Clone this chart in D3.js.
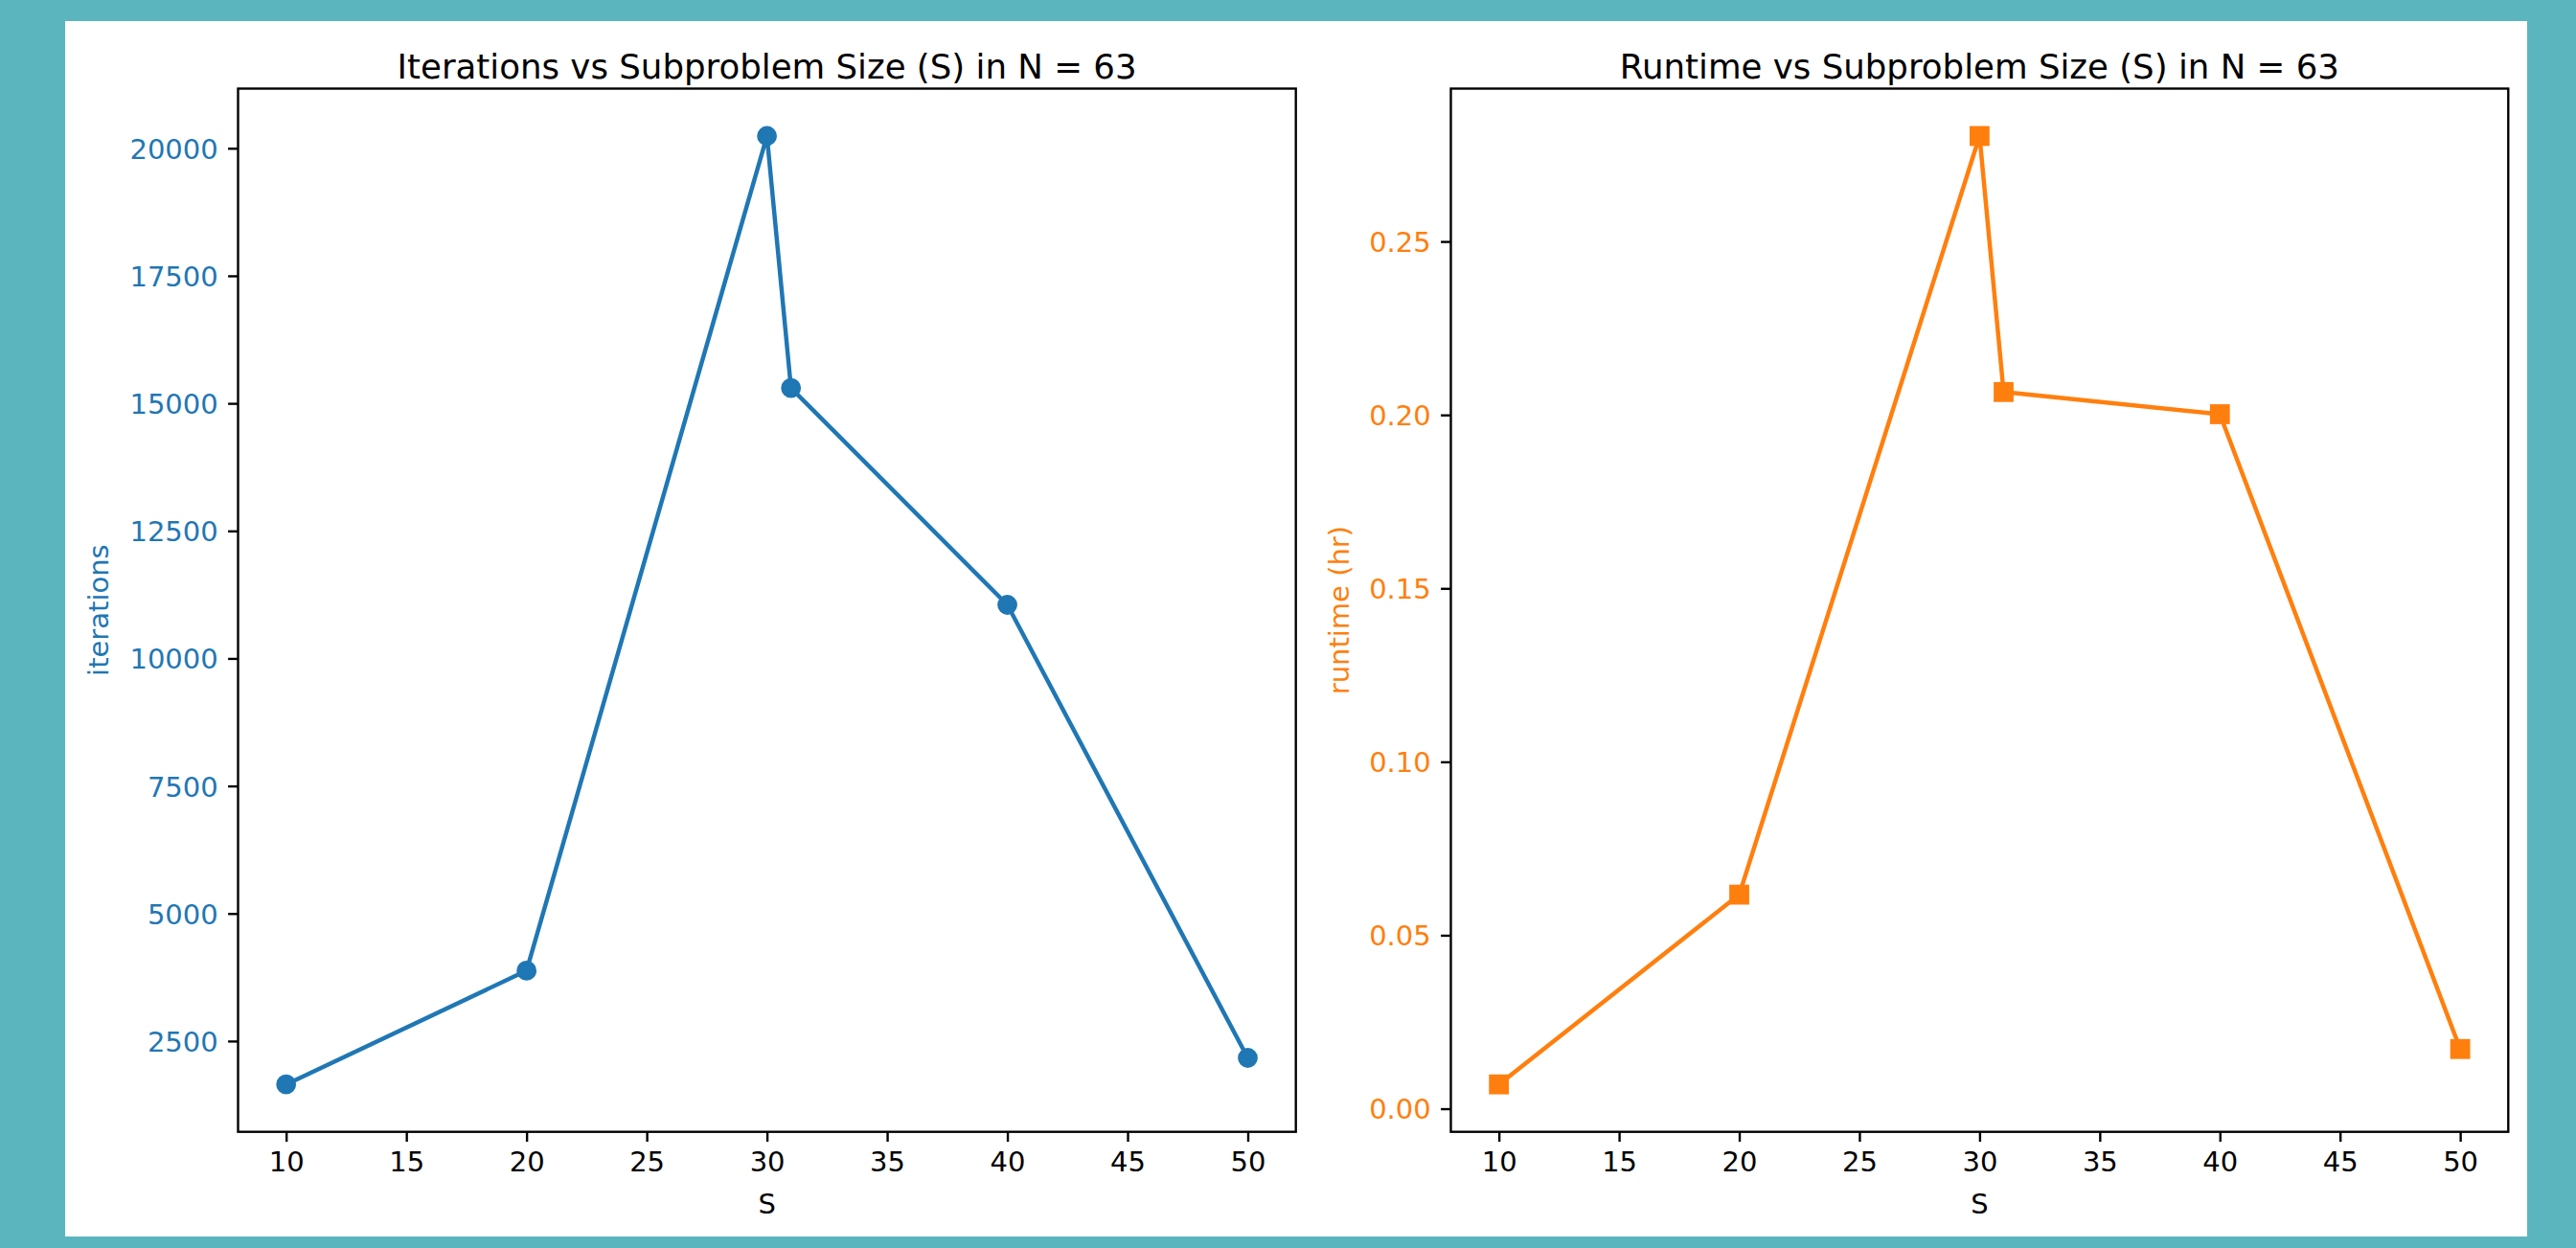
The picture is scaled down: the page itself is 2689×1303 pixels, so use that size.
<!DOCTYPE html>
<html>
<head>
<meta charset="utf-8">
<script src="https://cdn.jsdelivr.net/npm/d3@7"></script>
<style>
  body { margin: 0; background: #5bb5bf; }
  text { font-family: "DejaVu Sans", sans-serif; }
</style>
</head>
<body>
<div id="chart"></div>
<script>
// data
var subSizes = [10, 20, 30, 31, 40, 50],
    iterations = [1650, 3880, 20240, 15300, 11050, 2170],
    runtimeHr = [0.0070, 0.0617, 0.2804, 0.2066, 0.2002, 0.0172],
    xTicks = [10, 15, 20, 25, 30, 35, 40, 45, 50],
    iterTicks = [2500, 5000, 7500, 10000, 12500, 15000, 17500, 20000],
    runTicks = [0, 0.05, 0.10, 0.15, 0.20, 0.25];

var width = 2689,
    height = 1303,
    pt = 2.97,            // px per point in the source figure
    blue = "#1f77b4",
    orange = "#ff7f0e";

var svg = d3.select("#chart").append("svg")
    .attr("width", width)
    .attr("height", height);

svg.append("rect")
    .attr("width", width)
    .attr("height", height)
    .style("fill", "#5bb5bf");

svg.append("rect")
    .attr("x", 68)
    .attr("y", 22)
    .attr("width", 2570)
    .attr("height", 1269)
    .style("fill", "#ffffff");

// matplotlib style 5% padding around the data
function padded(vals) {
  var lo = d3.min(vals), hi = d3.max(vals), r = hi - lo;
  return [lo - 0.05 * r, hi + 0.05 * r];
}

function panel(opts) {
  var left = opts.left, right = opts.right, top = 92.5, bottom = 1181.7;

  var x = d3.scaleLinear().domain(padded(subSizes)).range([left, right]);
  var y = d3.scaleLinear().domain(padded(opts.values)).range([bottom, top]);

  var g = svg.append("g");

  var xAxis = g.append("g")
      .attr("transform", "translate(0," + bottom + ")")
      .call(d3.axisBottom(x).tickValues(xTicks).tickSize(3.5 * pt).tickPadding(3.5 * pt).tickFormat(d3.format("d")));

  var yAxis = g.append("g")
      .attr("transform", "translate(" + left + ",0)")
      .call(d3.axisLeft(y).tickValues(opts.ticks).tickSize(3.5 * pt).tickPadding(3.5 * pt).tickFormat(opts.format));

  [xAxis, yAxis].forEach(function(a) {
    a.select(".domain").remove();
    a.selectAll(".tick line").style("stroke", "#000").style("stroke-width", 0.8 * pt);
    a.selectAll(".tick text").style("font-size", "29px").style("font-family", "DejaVu Sans");
  });
  xAxis.selectAll(".tick text").style("fill", "#000").attr("dy", "0.71em").attr("y", 3.5 * pt + 3.5 * pt);
  yAxis.selectAll(".tick text").style("fill", opts.color).attr("dy", "0.36em");

  g.append("rect")
      .attr("x", left)
      .attr("y", top)
      .attr("width", right - left)
      .attr("height", bottom - top)
      .style("fill", "none")
      .style("stroke", "#000")
      .style("stroke-width", 0.8 * pt);

  var line = d3.line()
      .x(function(d, i) { return x(subSizes[i]); })
      .y(function(d) { return y(d); });

  g.append("path")
      .datum(opts.values)
      .attr("d", line)
      .style("fill", "none")
      .style("stroke", opts.color)
      .style("stroke-width", 1.5 * pt)
      .style("stroke-linejoin", "round");

  var ms = 6 * pt;
  if (opts.marker === "circle") {
    g.selectAll(".pt").data(opts.values).enter().append("circle")
        .attr("cx", function(d, i) { return x(subSizes[i]); })
        .attr("cy", function(d) { return y(d); })
        .attr("r", ms / 2)
        .style("fill", opts.color)
        .style("stroke", opts.color)
        .style("stroke-width", pt);
  } else {
    g.selectAll(".pt").data(opts.values).enter().append("rect")
        .attr("x", function(d, i) { return x(subSizes[i]) - ms / 2; })
        .attr("y", function(d) { return y(d) - ms / 2; })
        .attr("width", ms)
        .attr("height", ms)
        .style("fill", opts.color)
        .style("stroke", opts.color)
        .style("stroke-width", pt);
  }

  g.append("text")
      .attr("x", (left + right) / 2)
      .attr("y", 82)
      .attr("text-anchor", "middle")
      .style("font-size", "35.6px")
      .style("fill", "#000")
      .text(opts.title);

  g.append("text")
      .attr("x", (left + right) / 2)
      .attr("y", 1267)
      .attr("text-anchor", "middle")
      .style("font-size", "29px")
      .style("fill", "#000")
      .text("S");

  g.append("text")
      .attr("transform", "translate(" + opts.ylabelX + "," + (top + bottom) / 2 + ") rotate(-90)")
      .attr("text-anchor", "middle")
      .style("font-size", "29px")
      .style("fill", opts.color)
      .text(opts.ylabel);
}

panel({
  left: 248.5, right: 1352.7,
  values: iterations, ticks: iterTicks, format: d3.format("d"),
  color: blue, marker: "circle",
  title: "Iterations vs Subproblem Size (S) in N = 63",
  ylabel: "iterations", ylabelX: 113
});

panel({
  left: 1514.5, right: 2618.3,
  values: runtimeHr, ticks: runTicks, format: d3.format(".2f"),
  color: orange, marker: "square",
  title: "Runtime vs Subproblem Size (S) in N = 63",
  ylabel: "runtime (hr)", ylabelX: 1408
});
</script>
</body>
</html>
